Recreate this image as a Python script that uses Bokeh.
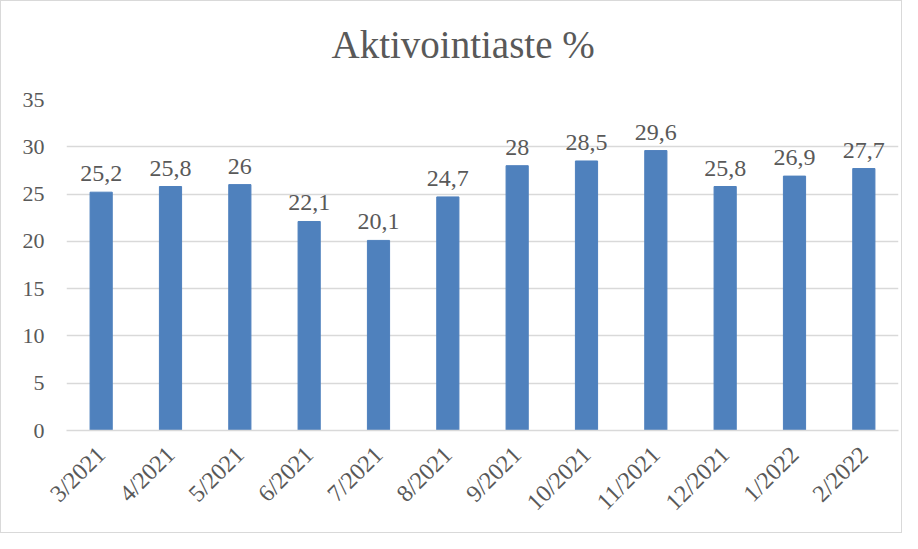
import math
from bokeh.plotting import figure
from bokeh.models import ColumnDataSource, LabelSet, Title, FixedTicker
from bokeh.embed import file_html
from bokeh.resources import INLINE

months = ["3/2021", "4/2021", "5/2021", "6/2021", "7/2021", "8/2021",
          "9/2021", "10/2021", "11/2021", "12/2021", "1/2022", "2/2022"]
values = [25.2, 25.8, 26, 22.1, 20.1, 24.7, 28, 28.5, 29.6, 25.8, 26.9, 27.7]
labels = ["25,2", "25,8", "26", "22,1", "20,1", "24,7", "28", "28,5", "29,6", "25,8", "26,9", "27,7"]
y_ticks = [0, 5, 10, 15, 20, 25, 30, 35]
title_text = "Aktivointiaste %"

FONT = "Liberation Serif"
TXT = "#595959"

src = ColumnDataSource(dict(m=months, v=values, lab=labels))

p = figure(x_range=months, y_range=(0, 35), width=902, height=533,
           output_backend="svg", toolbar_location=None,
           min_border_left=65, min_border_right=5,
           min_border_top=98, min_border_bottom=104)

p.vbar(x="m", top="v", width=0.32, source=src, color="#4F81BD")

p.add_layout(LabelSet(x="m", y="v", text="lab", source=src, y_offset=11,
                      text_align="center", text_baseline="bottom",
                      text_font=FONT, text_font_size="24px", text_color=TXT))

# spacer between the title and the plot area
p.add_layout(Title(text=" ", text_font_size="16px"), "above")
p.add_layout(Title(text=title_text, align="left", offset=265,
                   text_font=FONT, text_font_size="39px",
                   text_font_style="normal", text_color=TXT), "above")

p.outline_line_color = None
p.xgrid.grid_line_color = None
p.ygrid.grid_line_color = "#D9D9D9"
p.ygrid.grid_line_width = 1.5

p.yaxis.ticker = FixedTicker(ticks=y_ticks)
p.yaxis.axis_line_color = None
p.yaxis.major_tick_line_color = None
p.yaxis.minor_tick_line_color = None
p.yaxis.major_label_standoff = 16
p.yaxis.major_label_text_font = FONT
p.yaxis.major_label_text_font_size = "22px"
p.yaxis.major_label_text_color = TXT

p.xaxis.axis_line_color = "#D9D9D9"
p.xaxis.axis_line_width = 1.5
p.xaxis.major_tick_line_color = None
p.xaxis.major_label_orientation = math.pi / 4
p.xaxis.major_label_standoff = 14
p.xaxis.major_label_text_font = FONT
p.xaxis.major_label_text_font_size = "24px"
p.xaxis.major_label_text_color = TXT

p.styles = {"border": "1px solid #D9D9D9"}

open("out.html", "w").write(file_html(p, INLINE))
